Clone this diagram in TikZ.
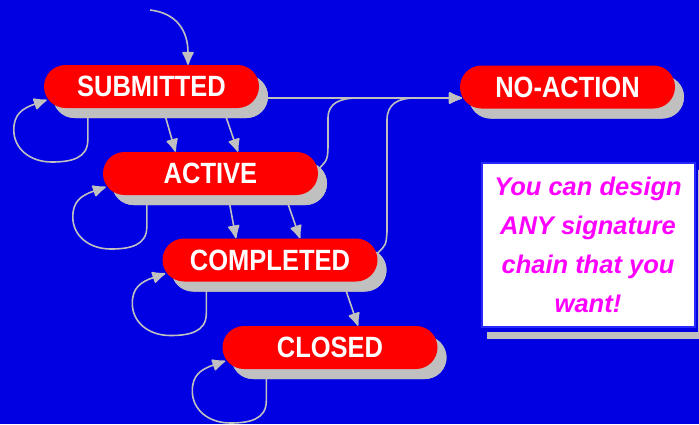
\documentclass[tikz,border=0pt]{standalone}
\usepackage{fontspec}
\usepackage{graphicx}
\setmainfont{Liberation Sans}
\usetikzlibrary{shapes.misc,arrows.meta,calc}
\definecolor{bgblue}{RGB}{0,0,226}
\definecolor{pillred}{RGB}{255,0,0}
\definecolor{lgray}{RGB}{192,192,192}
\definecolor{mag}{RGB}{255,0,255}
\definecolor{boxblue}{RGB}{40,40,255}
\newcommand{\pilltxt}[1]{\scalebox{1}[1.15]{#1}}
\tikzset{
  pill/.style={rounded rectangle, fill=pillred, minimum width=215pt, minimum height=43pt,
    inner sep=0pt, text=white, font=\bfseries\fontsize{25.5}{26}\selectfont},
  pillshadow/.style={rounded rectangle, fill=lgray, minimum width=215pt, minimum height=43pt, inner sep=0pt},
  conn/.style={draw=lgray, line width=1.6pt, -{Latex[length=15pt,width=13pt,round]}},
}
\begin{document}
\begin{tikzpicture}[x=1pt,y=-1pt]
\fill[bgblue] (0,0) rectangle (699,424);
\useasboundingbox (0,0) rectangle (699,424);

% shadows
\node[pillshadow] (Ss) at (160.5,96.5) {};
\node[pillshadow] (As) at (219.5,183.5) {};
\node[pillshadow] (Cs) at (279,270) {};
\node[pillshadow] (CLs) at (339,357.5) {};
\node[pillshadow] (Ns) at (576.5,97) {};

% pill positions (invisible nodes used by the connectors)
\path (151.5,86.5) coordinate (Sc) (210.5,173.5) coordinate (Ac)
      (270,260) coordinate (Cc) (330,347.5) coordinate (CLc) (567.5,87) coordinate (Nc);
\node[pill, fill=none, opacity=0] (S) at (Sc) {\phantom{X}};
\node[pill, fill=none, opacity=0] (A) at (Ac) {\phantom{X}};
\node[pill, fill=none, opacity=0] (C) at (Cc) {\phantom{X}};
\node[pill, fill=none, opacity=0] (CL) at (CLc) {\phantom{X}};
\node[pill, fill=none, opacity=0] (N) at (Nc) {\phantom{X}};

% connectors
\coordinate (start) at (150,10);
\draw[conn] (start) .. controls (176,13) and (188,30) .. ($(S.north)+(36.5,0)$);
\draw[conn] ($(S.south)+(11.5,0)$) -- ($(A.north)+(-35,0)$);
\draw[conn] ($(S.south)+(71.5,0)$) -- ($(A.north)+(27.5,0)$);
\draw[conn] ($(A.south)+(17.5,0)$) -- ($(C.north)+(-34,0)$);
\draw[conn] ($(A.south)+(74.5,0)$) -- ($(C.north)+(30,0)$);
\draw[conn] ($(C.south)+(73,0)$) -- ($(CL.north)+(28,0)$);
\draw[conn] ($(S.east)+(5,11.5)$) -- ($(N.west)+(2,11)$);
\draw[conn] ($(A.east)+(-1,-3.5)$) .. controls (328,160) .. (328,140) -- (328,118)
   .. controls (328,103) and (340,98) .. (358,98) -- ($(N.west)+(2,11)$);
\draw[conn] ($(C.east)+(0,-7)$) .. controls (386,245) .. (387,232) -- (387,120)
   .. controls (387,104) and (398,98) .. (415,98) -- ($(N.west)+(2,11)$);
\foreach \n in {S,A,C,CL}{
  \draw[conn] ($(\n.west)+(44,21.5)$) -- ($(\n.west)+(44,53.5)$)
    .. controls ($(\n.west)+(44,72)$) and ($(\n.west)+(27,75.5)$) .. ($(\n.west)+(8,75.5)$)
    .. controls ($(\n.west)+(-14,75.5)$) and ($(\n.west)+(-30,62)$) .. ($(\n.west)+(-30,43.5)$)
    .. controls ($(\n.west)+(-30,28)$) and ($(\n.west)+(-22,22)$) .. ($(\n.west)+(3,13.5)$);
}
% re-draw shadows over the line starts
\node[pillshadow] at (Ss) {};
\node[pillshadow] at (As) {};
\node[pillshadow] at (Cs) {};
\node[pillshadow] at (CLs) {};
\node[pillshadow] at (Ns) {};

% pills
\node[pill] (Sp) at (Sc) {\pilltxt{SUBMITTED}};
\node[pill] (Ap) at (Ac) {\pilltxt{ACTIVE}};
\node[pill] (Cp) at (Cc) {\pilltxt{COMPLETED}};
\node[pill] (CLp) at (CLc) {\pilltxt{CLOSED}};
\node[pill] (Np) at (Nc) {\pilltxt{NO-ACTION}};

% text box
\fill[lgray] (487,170) rectangle (712,339);
\fill[bgblue] (478,159) rectangle (697.5,332);
\node[draw=boxblue, line width=2pt, fill=white, minimum width=213pt, minimum height=164pt, inner sep=0pt]
  (box) at (588,244.5) {};
\node[text=mag, align=center, font=\bfseries\itshape\fontsize{25.5}{39}\selectfont] (msg) at (box)
  {You can design\\ANY signature\\chain that you\\want!};
\end{tikzpicture}
\end{document}
